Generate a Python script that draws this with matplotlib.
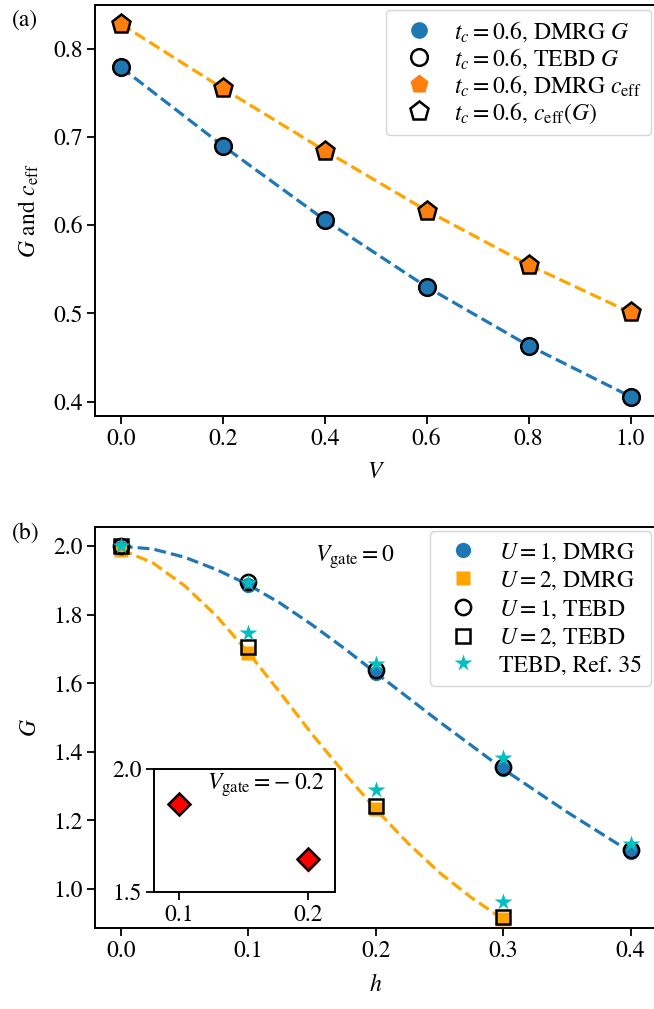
import matplotlib
matplotlib.use("Agg")
import matplotlib.pyplot as plt

plt.rcParams['font.family'] = ['STIXGeneral', 'DejaVu Sans']
plt.rcParams['mathtext.fontset'] = 'stix'
plt.rcParams['font.size'] = 17

# ---------------- Panel (a) data ----------------
V = [0.0, 0.2, 0.4, 0.6, 0.8, 1.0]
G_dmrg_a = [0.779, 0.690, 0.606, 0.530, 0.4635, 0.4057]
G_tebd_a = [0.779, 0.690, 0.606, 0.530, 0.4635, 0.4057]
ceff_dmrg = [0.828, 0.755, 0.6845, 0.6165, 0.555, 0.501]
ceff_G = [0.828, 0.755, 0.6845, 0.6165, 0.555, 0.501]

# ---------------- Panel (b) data ----------------
h1 = [0.0, 0.1, 0.2, 0.3, 0.4]
U1_dmrg = [1.995, 1.888, 1.631, 1.350, 1.108]
U1_tebd = [2.0, 1.895, 1.639, 1.357, 1.113]
h2 = [0.0, 0.1, 0.2, 0.3]
U2_dmrg = [1.99, 1.688, 1.233, 0.912]
U2_tebd = [2.0, 1.705, 1.243, 0.917]
h_ref = [0.0, 0.1, 0.1, 0.2, 0.2, 0.3, 0.3, 0.4]
G_ref = [2.0, 1.893, 1.748, 1.657, 1.289, 1.382, 0.962, 1.132]

# fitted curves
h_fit1 = [0.0, 0.025, 0.05, 0.075, 0.1, 0.125, 0.15, 0.175, 0.2, 0.25, 0.3, 0.35, 0.4]
G_fit1 = [2.0, 1.992, 1.968, 1.932, 1.888, 1.834, 1.771, 1.703, 1.631, 1.488, 1.350, 1.225, 1.108]
h_fit2 = [0.0, 0.025, 0.05, 0.075, 0.1, 0.125, 0.15, 0.175, 0.2, 0.225, 0.25, 0.275, 0.3]
G_fit2 = [1.99, 1.952, 1.885, 1.797, 1.69, 1.573, 1.452, 1.34, 1.233, 1.135, 1.048, 0.975, 0.912]

# inset
h_in = [0.1, 0.2]
G_in_dmrg = [1.853, 1.627]
G_in_tebd = [1.858, 1.632]

W, H = 654, 1009
fig = plt.figure(figsize=(W / 100, H / 100), dpi=100)

def fx(px):
    return px / W

def fy(py):
    return 1 - py / H

tick_kw = dict(direction='out', length=5.5, width=1.3)

blue = '#1f77b4'
orange_line = '#ffa500'
orange_pent = '#ff7f0e'

# ---------------- Panel (a) ----------------
axa = fig.add_axes([fx(95.3), fy(415.7), fx(656 - 95.3), (415.7 - 5) / H])
axa.plot(V, G_dmrg_a, '--', color=blue, lw=2.3, zorder=1)
axa.plot(V, ceff_dmrg, '--', color=orange_line, lw=2.3, zorder=1)
axa.plot(V, G_dmrg_a, 'o', color=blue, ms=12, mec='none', ls='none', zorder=2,
         label=r'$t_c = 0.6$, DMRG $G$')
axa.plot(V, G_tebd_a, 'o', mfc='none', mec='k', mew=1.8, ms=12, ls='none', zorder=3,
         label=r'$t_c = 0.6$, TEBD $G$')
axa.plot(V, ceff_dmrg, 'p', color=orange_pent, ms=14, mec='none', ls='none', zorder=2,
         label=r'$t_c = 0.6$, DMRG $c_{\rm eff}$')
axa.plot(V, ceff_G, 'p', mfc='none', mec='k', mew=1.8, ms=14, ls='none', zorder=3,
         label=r'$t_c = 0.6$, $c_{\rm eff}(G)$')
axa.set_xlim(-0.05, 1.05)
axa.set_ylim(0.384, 0.8495)
axa.set_xticks([0.0, 0.2, 0.4, 0.6, 0.8, 1.0])
axa.set_yticks([0.4, 0.5, 0.6, 0.7, 0.8])
axa.set_xlabel(r'$V$', labelpad=9)
axa.set_ylabel(r'$G$ and $c_{\rm eff}$', labelpad=8.5)
axa.tick_params(**tick_kw)
for s in axa.spines.values():
    s.set_linewidth(1.4)
axa.legend(loc='upper right', borderaxespad=0.2, handletextpad=0.5,
           labelspacing=0.1, fontsize=17)
fig.text(fx(12), fy(20), '(a)', fontsize=17, va='center', ha='left')

# ---------------- Panel (b) ----------------
axb = fig.add_axes([fx(95.3), fy(927.7), fx(656 - 95.3), (927.7 - 526.7) / H])
axb.plot(h_fit1, G_fit1, '--', color=blue, lw=2.3, zorder=1)
axb.plot(h_fit2, G_fit2, '--', color=orange_line, lw=2.3, zorder=1)
axb.plot(h1, U1_dmrg, 'o', color=blue, ms=11, mec='none', ls='none', zorder=2,
         label=r'$U = 1$, DMRG')
axb.plot(h2, U2_dmrg, 's', color=orange_line, ms=10, mec='none', ls='none', zorder=2,
         label=r'$U = 2$, DMRG')
axb.plot(h1, U1_tebd, 'o', mfc='none', mec='k', mew=1.8, ms=11, ls='none', zorder=3,
         label=r'$U = 1$, TEBD')
axb.plot(h2, U2_tebd, 's', mfc='none', mec='k', mew=1.8, ms=10, ls='none', zorder=3,
         label=r'$U = 2$, TEBD')
axb.plot(h_ref, G_ref, '*', color='c', ms=13, mec='none', ls='none', zorder=4,
         label='TEBD, Ref. 35')
axb.set_xlim(-0.02, 0.42)
axb.set_ylim(0.887, 2.057)
axb.set_xticks([0.0, 0.1, 0.2, 0.3, 0.4])
axb.set_yticks([1.0, 1.2, 1.4, 1.6, 1.8, 2.0])
axb.set_xlabel(r'$h$', labelpad=9)
axb.set_ylabel(r'$G$', labelpad=9)
axb.tick_params(**tick_kw)
for s in axb.spines.values():
    s.set_linewidth(1.4)
axb.legend(loc='upper right', borderaxespad=0.2, handletextpad=0.5,
           labelspacing=0.25, fontsize=17)
axb.text(0.391, 0.924, r'$V_{\rm gate} = 0$', transform=axb.transAxes,
         ha='left', va='center', fontsize=17)
fig.text(fx(12), fy(533), '(b)', fontsize=17, va='center', ha='left')

# ---------------- Inset ----------------
axi = fig.add_axes([fx(154), fy(891.7), fx(335 - 154), (891.7 - 769) / H])
axi.plot(h_in, G_in_dmrg, 'D', color='red', ms=11, mec='none', ls='none', zorder=2)
axi.plot(h_in, G_in_tebd, 'D', color='red', mec='k', mew=1.8, ms=11, ls='none', zorder=3)
axi.set_xlim(0.0804, 0.2207)
axi.set_ylim(1.5, 2.0)
axi.set_xticks([0.1, 0.2])
axi.set_yticks([1.5, 2.0])
axi.tick_params(**tick_kw)
for s in axi.spines.values():
    s.set_linewidth(1.4)
axi.text(0.945, 0.87, r'$V_{\rm gate} = -\;0.2$', transform=axi.transAxes,
         ha='right', va='center', fontsize=17)

fig.savefig('out.png', dpi=100)
